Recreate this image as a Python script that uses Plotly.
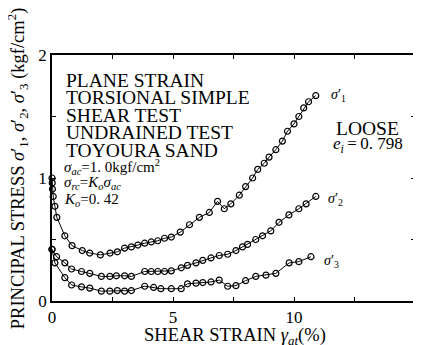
import plotly.graph_objects as go

# shear strain (%) and principal stresses (kgf/cm2)
s1_x = [0, 0.01, 0.02, 0.05, 0.12, 0.2, 0.53, 0.83, 1.25, 1.56, 2.0, 2.4, 2.7, 3.0, 3.28, 3.55,
        3.83, 4.1, 4.37, 4.65, 4.93, 5.3, 5.68, 6.09, 6.5, 6.84, 7.12, 7.39, 7.74, 8.0, 8.29,
        8.5, 8.77, 8.97, 9.25, 9.52, 9.73, 10.0, 10.2, 10.4, 10.6, 10.9]
s1_y = [1.0, 0.96, 0.91, 0.85, 0.77, 0.68, 0.53, 0.45, 0.41, 0.39, 0.375, 0.39, 0.40, 0.43,
        0.44, 0.455, 0.47, 0.48, 0.49, 0.51, 0.52, 0.56, 0.62, 0.68, 0.72, 0.81, 0.75, 0.79,
        0.86, 0.93, 1.0, 1.07, 1.12, 1.17, 1.23, 1.30, 1.38, 1.44, 1.50, 1.57, 1.62, 1.67]

s2_x = [0, 0.19, 0.53, 0.81, 1.22, 1.56, 2.04, 2.39, 2.66, 3.0, 3.28, 3.83, 4.1, 4.37, 4.65,
        4.93, 5.34, 5.6, 5.95, 6.23, 6.57, 6.91, 7.26, 7.6, 7.87, 8.08, 8.42, 8.7, 9.04, 9.38,
        9.79, 10.2, 10.5, 10.9]
s2_y = [0.42, 0.36, 0.31, 0.26, 0.24, 0.225, 0.20, 0.20, 0.205, 0.205, 0.20, 0.24, 0.24, 0.24,
        0.24, 0.245, 0.27, 0.29, 0.31, 0.33, 0.35, 0.37, 0.38, 0.41, 0.44, 0.46, 0.50, 0.53,
        0.57, 0.64, 0.70, 0.75, 0.79, 0.85]

s3_x = [0, 0.12, 0.53, 0.81, 1.22, 1.56, 2.04, 2.39, 2.7, 3.0, 3.28, 3.83, 4.2, 4.5, 4.93,
        5.34, 5.6, 5.95, 6.23, 6.57, 6.91, 7.26, 7.6, 8.0, 8.42, 8.84, 9.25, 9.8, 10.2, 10.7]
s3_y = [0.42, 0.31, 0.19, 0.13, 0.115, 0.105, 0.08, 0.08, 0.085, 0.08, 0.085, 0.12, 0.11,
        0.10, 0.10, 0.10, 0.14, 0.145, 0.15, 0.155, 0.17, 0.12, 0.125, 0.165, 0.20, 0.21,
        0.225, 0.31, 0.32, 0.36]

FONT = "Liberation Serif, Times New Roman, DejaVu Serif, serif"

fig = go.Figure()
for xs, ys in [(s1_x, s1_y), (s2_x, s2_y), (s3_x, s3_y)]:
    fig.add_trace(go.Scatter(
        x=xs, y=ys, mode="lines+markers",
        line=dict(color="black", width=1),
        marker=dict(symbol="circle-open", size=6, color="black", line=dict(width=1.2)),
        showlegend=False, cliponaxis=False))

axis_common = dict(showgrid=False, zeroline=False, showline=True, linecolor="black",
                   linewidth=1.5, mirror="ticks", ticks="inside", ticklen=4,
                   tickcolor="black", tickfont=dict(family=FONT, size=17, color="black"))

fig.update_xaxes(range=[0, 15], dtick=5, tick0=0,
                 minor=dict(dtick=2.5, ticks="inside", ticklen=4, tickcolor="black"),
                 **axis_common)
fig.update_yaxes(range=[0, 2], dtick=1, tick0=0,
                 minor=dict(dtick=0.5, ticks="inside", ticklen=4, tickcolor="black"),
                 **axis_common)

ann = []
def txt(x, y, t, size=17, xanchor="left", yanchor="middle"):
    ann.append(dict(x=x, y=y, xref="paper", yref="paper", text=t, showarrow=False,
                    xanchor=xanchor, yanchor=yanchor, borderpad=0,
                    font=dict(family=FONT, size=size, color="black")))

# page has an 8px body margin; compensate so plot area sits at x 52-417, y 55-301
OFF = 8
W, H = 421 - OFF, 345 - OFF
L, R, T, B = 52 - OFF, 4, 55 - OFF, 44
pw, ph = 365, 246
def px(xp): return (xp - 52) / pw
def py(yp): return (301 - yp) / ph

lines = ["PLANE STRAIN", "TORSIONAL SIMPLE", "SHEAR TEST", "UNDRAINED TEST", "TOYOURA SAND"]
ys_pix = [80, 97.5, 115, 132.5, 150]
for t, yp in zip(lines, ys_pix):
    txt(px(65), py(yp), t, size=19.5)
txt(px(63), py(167), "<i>σ<sub>ac</sub></i>=1. 0kgf/cm<sup>2</sup>", size=15)
txt(px(63), py(183), "<i>σ<sub>rc</sub></i>=<i>K<sub>o</sub>σ<sub>ac</sub></i>", size=15)
txt(px(63), py(200), "<i>K<sub>o</sub></i>=0. 42", size=15)
txt(px(337), py(128), "LOOSE", size=19.5)
txt(px(334), py(145), "<i>e<sub>i</sub></i>\u2009=\u20090. 798", size=17)
txt(px(332), py(95), "<i>σ</i>′<sub>1</sub>", size=14)
txt(px(329), py(200), "<i>σ</i>′<sub>2</sub>", size=14)
txt(px(324), py(261), "<i>σ</i>′<sub>3</sub>", size=14)

# axis titles
txt(px(236), py(336), "SHEAR STRAIN <i>γ<sub>at</sub></i>(%)", size=18.5, xanchor="center")
ann.append(dict(x=px(17), y=py(168), xref="paper", yref="paper", showarrow=False,
                text="PRINCIPAL STRESS <i>σ</i>′<sub>1</sub>, <i>σ</i>′<sub>2</sub>, <i>σ</i>′<sub>3</sub> (kgf/cm<sup>2</sup>)",
                textangle=-90, xanchor="center", yanchor="middle", borderpad=0,
                font=dict(family=FONT, size=18.5, color="black")))

fig.update_layout(width=W, height=H, margin=dict(l=L, r=R, t=T, b=B),
                  paper_bgcolor="white", plot_bgcolor="white", annotations=ann)

fig.write_html("out.html")
